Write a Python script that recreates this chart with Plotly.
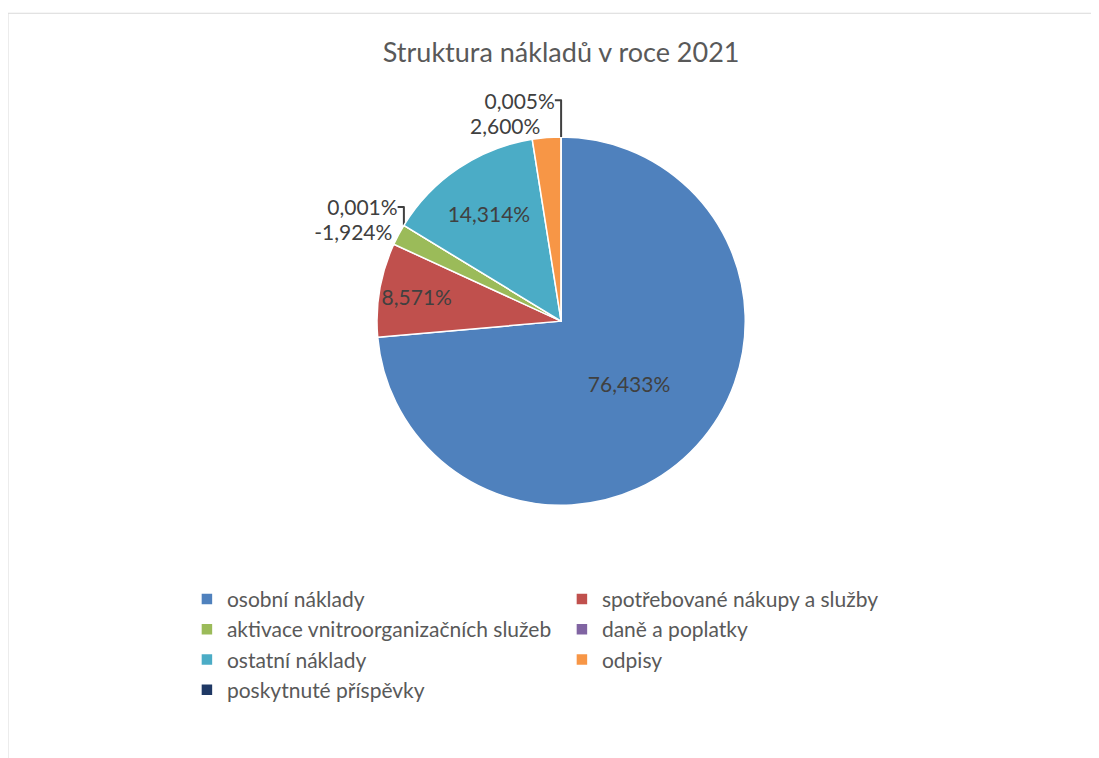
import plotly.graph_objects as go

categories = ["osobní náklady", "spotřebované nákupy a služby",
              "aktivace vnitroorganizačních služeb", "daně a poplatky",
              "ostatní náklady", "odpisy", "poskytnuté příspěvky"]
shares = [76.433, 8.571, -1.924, 0.001, 14.314, 2.600, 0.005]
colors = ["#4F81BD", "#C0504D", "#9BBB59", "#8064A2", "#4BACC6", "#F79646", "#1F3864"]

sizes = [abs(v) for v in shares]
labels_txt = [f"{v:.3f}%".replace(".", ",") for v in shares]
positions = ["inside", "inside", "outside", "outside", "inside", "outside", "outside"]

W, H = 1091, 750

fig = go.Figure(go.Pie(
    labels=categories, values=sizes, text=labels_txt, texttemplate="%{text}",
    textposition=positions, sort=False, direction="clockwise", rotation=0,
    marker=dict(colors=colors, line=dict(color="white", width=1.5)),
    textfont=dict(size=21, color="#404040"),
    insidetextorientation="horizontal",
    hoverinfo="label+text",
    domain=dict(x=[0.338, 0.676], y=[0.337, 0.828]),
))

fig.update_layout(
    width=W, height=H,
    margin=dict(l=0, r=0, t=0, b=0, autoexpand=False),
    paper_bgcolor="white",
    font=dict(family="Lato, Open Sans, sans-serif", color="#595959"),
    title=dict(text="Struktura nákladů v roce 2021", x=0.507, xanchor="center",
               y=0.941, yanchor="middle", font=dict(size=27, color="#595959")),
    legend=dict(orientation="h", x=0.164, xanchor="left", y=0.239, yanchor="top",
                entrywidth=330, entrywidthmode="pixels",
                font=dict(size=21, color="#595959"), itemwidth=30),
    showlegend=True,
    shapes=[dict(type="rect", xref="paper", yref="paper", x0=0.0, x1=1.01,
                 y0=-0.01, y1=0.993, line=dict(color="#D9D9D9", width=1))],
)

fig.write_html("out.html")
